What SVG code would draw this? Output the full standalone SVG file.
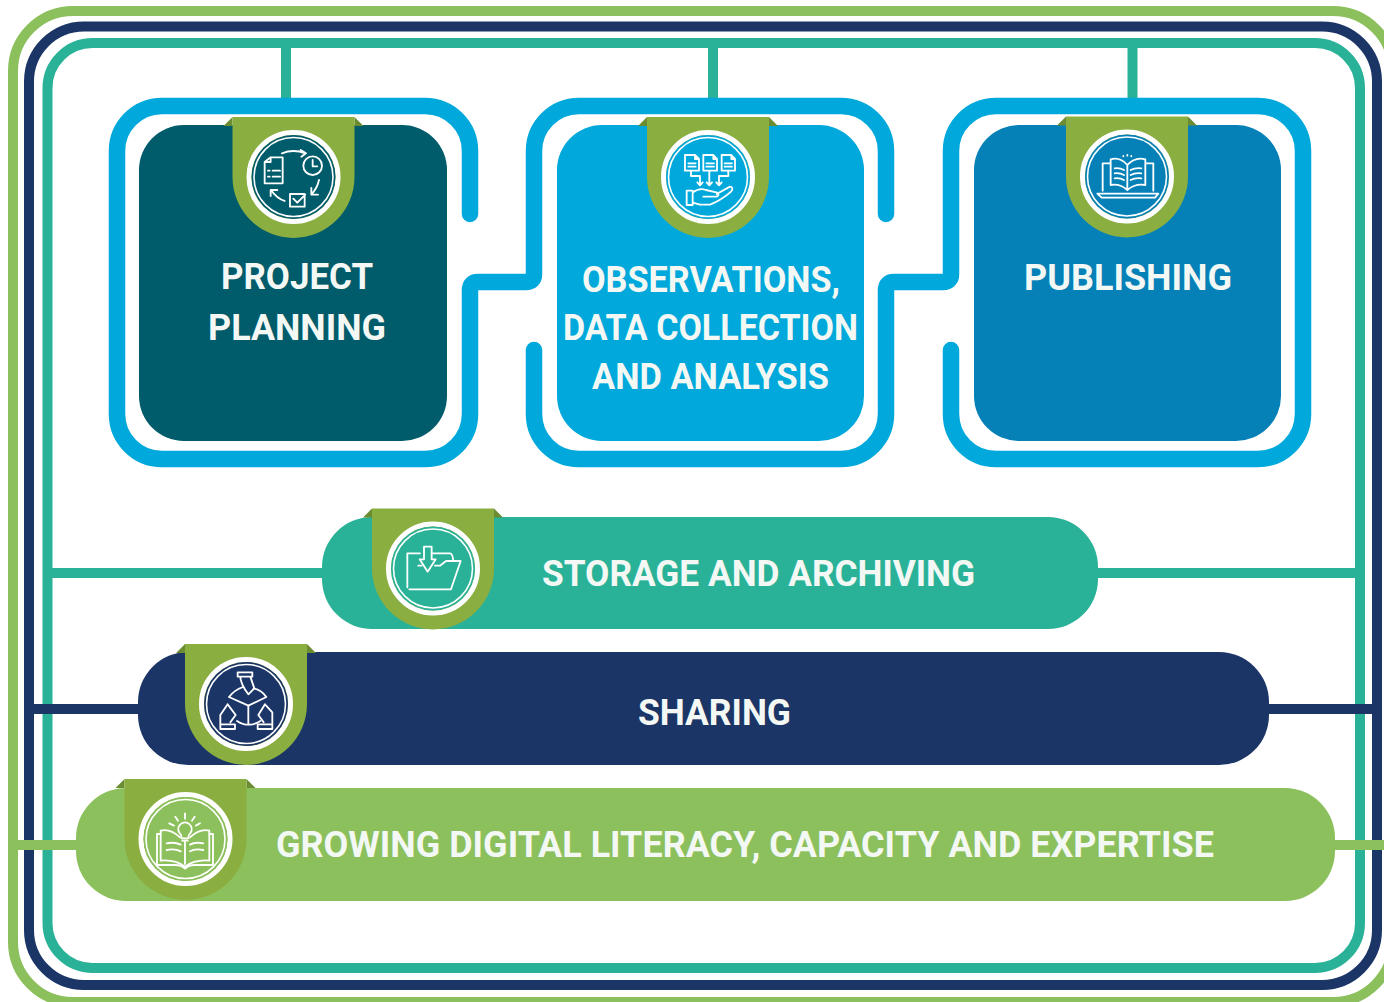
<svg xmlns="http://www.w3.org/2000/svg" width="1384" height="1002" viewBox="0 0 1384 1002">
<style>
.t{font-family:"Roboto","Liberation Sans",sans-serif;font-weight:700;fill:#f4f8f4;font-size:36px}
.ln{fill:none;stroke-width:10}
.cy{fill:none;stroke:#00a8db;stroke-width:16.5;stroke-linecap:round;stroke-linejoin:round}
.rib{fill:#8aae40}
.fold{fill:#6c8c31}
.ic{fill:none;stroke:#fff;stroke-width:5.5;stroke-linecap:round;stroke-linejoin:round}
.ring{fill:none;stroke:#fff}
</style>
<defs>
<g id="ribbon">
<path class="fold" d="M-61 -60L-70 -51H-61ZM61 -60L70 -51H61Z"/>
<path class="rib" d="M-61 -60H61V0A61 61 0 0 1 -61 0Z"/>
<circle class="ring" r="44.5" stroke-width="5"/>
</g>
</defs>
<rect width="1384" height="1002" fill="#fff"/>
<g id="connectors">
<rect class="ln" x="47.5" y="43" width="1312.5" height="925" rx="45" stroke="#2ab298"/>
<rect class="ln" x="29" y="26.500" width="1348" height="958.500" rx="55" stroke="#1b3566"/>
<rect class="ln" x="13" y="11" width="1380" height="991" rx="60" stroke="#8cc05c"/>
<path class="ln" stroke="#2ab298" d="M286 43V100M713 43V100M1132.500 43V100M48 573H330M1090 573H1360"/>
<path class="ln" stroke="#1b3566" d="M24 709H150M1260 709H1382"/>
<path class="ln" stroke="#8cc05c" d="M8 845H90M1320 845H1384"/>
<path class="cy" d="M470 214V151A45 45 0 0 0 425 106H162A45 45 0 0 0 117 151V414A45 45 0 0 0 162 459H425A45 45 0 0 0 470 414V290Q470 282 478 282H526Q534 282 534 274V151A45 45 0 0 1 579 106H841A45 45 0 0 1 886 151V214"/>
<path class="cy" d="M534 350V414A45 45 0 0 0 579 459H841A45 45 0 0 0 886 414V290Q886 282 894 282H943Q951 282 951 274V151A45 45 0 0 1 996 106H1258A45 45 0 0 1 1303 151V414A45 45 0 0 1 1258 459H996A45 45 0 0 1 951 414V350"/>
</g>
<g id="project-planning">
<rect x="139" y="125" width="308" height="316" rx="45" fill="#005b6b"/>
<use href="#ribbon" x="293.500" y="177"/>
<circle cx="293.500" cy="177" r="42" fill="#005b6b"/>
<circle class="ring" cx="293.500" cy="177" r="39.500" stroke-width="1.600"/>
<g transform="translate(200 100) scale(.3333)" class="ic">
<path d="M194 250V186L212 172H248V250Z M212 172V186H194"/><path d="M204 212h5M218 212h22M204 230h5M218 230h22"/>
<path d="M246 160Q280 146 316 160M302 150L318 160L304 170"/>
<circle cx="338" cy="197" r="28"/><path d="M338 180V199H352"/>
<path d="M357 240Q352 265 334 283M334 264V284H354"/>
<path d="M270 282H314V320H270ZM280 296L292 308L316 284"/>
<path d="M254 303Q230 295 213 270M212 288V270H232"/>
</g>
<text class="t" x="221" y="289" textLength="152" lengthAdjust="spacingAndGlyphs">PROJECT</text>
<text class="t" x="208" y="340" textLength="178" lengthAdjust="spacingAndGlyphs">PLANNING</text>
</g>
<g id="observations">
<rect x="557" y="125" width="307" height="316" rx="45" fill="#00a8db"/>
<use href="#ribbon" x="708" y="177"/>
<circle cx="708" cy="177" r="42" fill="#00a8db"/>
<circle class="ring" cx="708" cy="177" r="39.500" stroke-width="1.600"/>
<g transform="translate(620 100) scale(.3333)" class="ic">
<path d="M195 165H225L237 177V212H195ZM225 165V177H237M205 190H227M205 200H227"/>
<path d="M250 165H280L291 177V212H250ZM280 165V177H291M259 190H282M259 200H282"/>
<path d="M305 165H334L345 177V212H305ZM334 165V177H345M314 190H336M314 200H336"/>
<path d="M213 212V228H240V255M232 247L240 256L248 247"/>
<path d="M268 212V255M260 247L268 256L276 247"/>
<path d="M325 212V228H297V255M289 247L297 256L305 247"/>
<path d="M200 272H218V315H200ZM218 278Q238 262 258 270L292 278Q300 285 290 290H250M290 282L330 260Q342 262 334 274Q305 300 270 314H240L218 308"/>
</g>
<text class="t" x="582" y="292" textLength="258" lengthAdjust="spacingAndGlyphs">OBSERVATIONS,</text>
<text class="t" x="563" y="340" textLength="295" lengthAdjust="spacingAndGlyphs">DATA COLLECTION</text>
<text class="t" x="592" y="389" textLength="237" lengthAdjust="spacingAndGlyphs">AND ANALYSIS</text>
</g>
<g id="publishing">
<rect x="974" y="125" width="307" height="316" rx="45" fill="#0581b8"/>
<use href="#ribbon" x="1127" y="176.500"/>
<circle cx="1127" cy="176.500" r="42" fill="#0581b8"/>
<circle class="ring" cx="1127" cy="176.500" r="39.500" stroke-width="1.600"/>
<g transform="translate(1040 100) scale(.3333)" class="ic">
<path d="M188 272V190H210M340 272V190H318M172 281H355L345 293H185Z"/>
<path d="M262 195Q240 170 212 178V255Q240 250 262 270Q285 250 316 255V178Q285 170 262 195V270"/>
<path d="M224 205Q240 203 252 210M224 220Q240 218 252 225M224 235Q240 233 252 240M272 210Q285 203 304 205M272 225Q285 218 304 220M272 240Q285 233 304 235"/>
<path d="M250 168V169M262 165V167M274 168V169"/>
</g>
<text class="t" x="1024" y="290" textLength="208" lengthAdjust="spacingAndGlyphs">PUBLISHING</text>
</g>
<g id="storage">
<rect x="322" y="517" width="776" height="112" rx="50" fill="#2ab298"/>
<use href="#ribbon" x="433" y="568.500"/>
<circle cx="433" cy="568.500" r="42" fill="#2ab298"/>
<circle class="ring" cx="433" cy="568.500" r="39.500" stroke-width="1.600"/>
<g transform="translate(350 500) scale(.3333)" class="ic">
<path d="M172 262V160H210M245 160H300Q308 160 310 183"/>
<path d="M178 268H303L332 183H288L270 197H255M215 197H205Z"/>
<path d="M222 140H245V178H257L233 215L209 178H222Z"/>
</g>
<text class="t" x="542" y="586" textLength="433" lengthAdjust="spacingAndGlyphs">STORAGE AND ARCHIVING</text>
</g>
<g id="sharing">
<rect x="138" y="652" width="1131" height="113" rx="50" fill="#1b3566"/>
<use href="#ribbon" x="246" y="704"/>
<circle cx="246" cy="704" r="42" fill="#1b3566"/>
<circle class="ring" cx="246" cy="704" r="39.500" stroke-width="1.600"/>
<g transform="translate(165 635) scale(.3333)" class="ic">
<path d="M218 112H262V125H218ZM226 125Q226 145 250 178L268 160L256 125"/>
<path d="M192 186L250 212L304 186Q290 165 266 160M234 156Q208 165 192 186"/>
<path d="M250 212V268M216 258Q238 272 250 268Q262 272 286 258"/>
<path d="M188 208L166 240V268H210V282H166V268M188 208L212 240L196 262"/>
<path d="M300 208L322 232V268H278V282H322V268M300 208L280 240L296 262"/>
</g>
<text class="t" x="638" y="725" textLength="153" lengthAdjust="spacingAndGlyphs">SHARING</text>
</g>
<g id="digital-literacy">
<rect x="76" y="788" width="1259" height="113" rx="50" fill="#8cc05c"/>
<use href="#ribbon" x="185.500" y="839"/>
<circle cx="185.500" cy="839" r="42" fill="#8cc05c"/>
<circle class="ring" cx="185.500" cy="839" r="39.500" stroke-width="1.600"/>
<g transform="translate(100 770) scale(.3333)" class="ic">
<path d="M245 205Q245 195 238 188A20 20 0 1 1 272 188Q265 195 265 205ZM247 212H263"/>
<path d="M255 130V146M226 140L234 152M284 140L276 152M208 160L222 167M300 160L288 167"/>
<path d="M255 215V282M240 202Q210 175 182 182V272Q225 268 255 290Q285 268 328 272V182Q300 175 270 202"/>
<path d="M182 192H171V285H225Q245 285 255 296Q265 285 285 285H339V192H328"/>
<path d="M200 220Q225 215 242 224M200 240Q225 235 242 244M270 224Q285 215 310 220M270 244Q285 235 310 240"/>
</g>
<text class="t" x="276" y="857" textLength="938" lengthAdjust="spacingAndGlyphs">GROWING DIGITAL LITERACY, CAPACITY AND EXPERTISE</text>
</g>
</svg>
